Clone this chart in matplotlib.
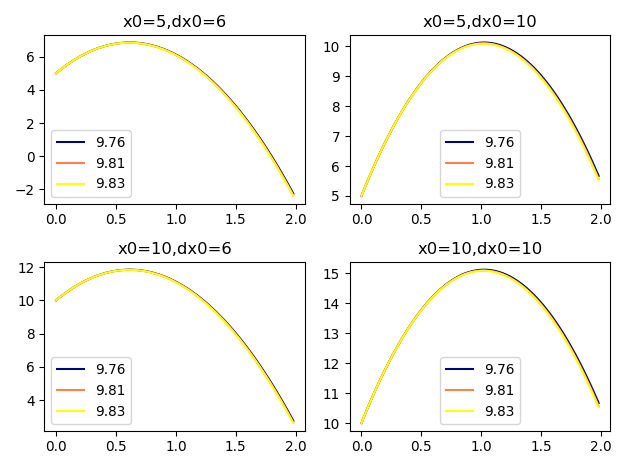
import numpy as np
import matplotlib
matplotlib.use("Agg")
import matplotlib.pyplot as plt

# Parameters (titles and legend)
x0_values = [5, 10]
dx0_values = [6, 10]
g_values = [9.76, 9.81, 9.83]
g_labels = ["9.76", "9.81", "9.83"]
colors = ["navy", "coral", "yellow"]
t = np.arange(0, 2, 0.02)

fig, axes = plt.subplots(2, 2, figsize=(6.4, 4.78), dpi=98.125)
for i, x0 in enumerate(x0_values):
    for j, dx0 in enumerate(dx0_values):
        ax = axes[i, j]
        for g, lab, c in zip(g_values, g_labels, colors):
            x = x0 + dx0 * t - 0.5 * g * t ** 2
            ax.plot(t, x, color=c, label=lab)
        ax.set_title(f"x0={x0},dx0={dx0}")
        ax.legend(loc="best")
fig.tight_layout()
fig.savefig("out.png")
